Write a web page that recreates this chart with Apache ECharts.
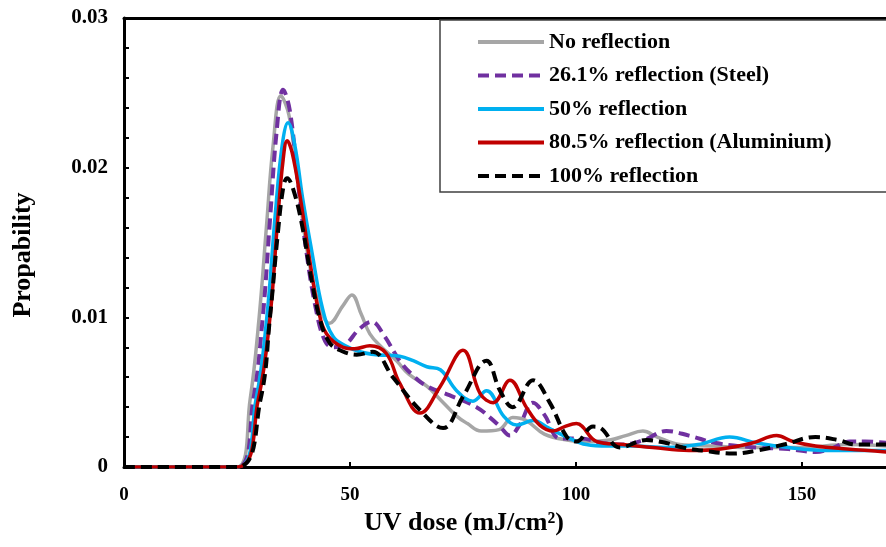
<!DOCTYPE html>
<html>
<head>
<meta charset="utf-8">
<script src="https://cdn.jsdelivr.net/npm/echarts@6/dist/echarts.min.js"></script>
<style>
  html, body { margin: 0; padding: 0; background: #fff; }
  #chart { width: 886px; height: 547px; }
</style>
</head>
<body>
<div id="chart"></div>
<script>
// [UV dose, probability]
const noReflection = [
  [0, 0], [25, 0], [27.9, 0.0045], [29.9, 0.010], [31.5, 0.016], [33, 0.0215], [34.7, 0.0248],
  [36.5, 0.0235], [38.5, 0.019], [40.5, 0.0145], [43, 0.0110], [45.5, 0.0096], [48.5, 0.0108],
  [50.4, 0.0115], [52.5, 0.0102], [54.4, 0.0089], [57, 0.0080], [60.3, 0.0071], [63, 0.0062],
  [67, 0.0054], [70, 0.0045], [73.6, 0.0034], [76, 0.0029], [79, 0.0024], [83, 0.0025],
  [86, 0.0033], [89, 0.0031], [93, 0.0022], [98, 0.0018], [103, 0.0017], [107.5, 0.0018],
  [111, 0.0021], [114.8, 0.0024], [118, 0.0020], [123, 0.0015], [130, 0.0014], [140, 0.0013],
  [150, 0.0013], [160, 0.0015], [169, 0.0014]
];
const steel = [
  [0, 0], [25, 0], [28.6, 0.0045], [30.7, 0.010], [32.3, 0.0165], [33.8, 0.0225], [35.2, 0.0252],
  [36.7, 0.0238], [38.5, 0.019], [40.3, 0.0145], [42.5, 0.0105], [44.5, 0.0084], [46.3, 0.0080],
  [49, 0.0082], [52, 0.0092], [54.8, 0.0097], [57.5, 0.0088], [61, 0.0071], [64, 0.0061],
  [67, 0.0054], [72, 0.0048], [78, 0.0040], [81, 0.0033], [83.2, 0.0027], [85.4, 0.0021],
  [87.5, 0.0028], [90.5, 0.0043], [93, 0.0035], [96.5, 0.0019], [101, 0.0019], [106, 0.0016],
  [110, 0.0015], [115, 0.0018], [120, 0.0024], [125, 0.0021], [131, 0.0016], [140, 0.0013],
  [147, 0.0012], [153, 0.0010], [157, 0.0013], [160.6, 0.0017], [164, 0.0017], [169, 0.0016]
];
const half = [
  [0, 0], [25, 0], [29.2, 0.0045], [31.6, 0.010], [33.5, 0.017], [35, 0.0215], [36.3, 0.0230],
  [37.8, 0.0215], [39.5, 0.018], [41.5, 0.0145], [44, 0.0105], [46.3, 0.0087], [49, 0.0081],
  [52.2, 0.0077], [55.9, 0.0075], [61, 0.0074], [64, 0.0071], [67, 0.0067], [70, 0.0065],
  [73.6, 0.0051], [77.2, 0.0044], [80.2, 0.0051], [84, 0.0034], [86.9, 0.0028], [90.5, 0.0031],
  [94, 0.0026], [98, 0.0020], [102.3, 0.0015], [107, 0.0014], [112.7, 0.0014], [120, 0.0013],
  [127, 0.0015], [134, 0.0020], [140, 0.0016], [147, 0.0013], [156, 0.0011], [162, 0.0011],
  [169, 0.0011]
];
const aluminium = [
  [0, 0], [25, 0], [29.7, 0.0045], [32.3, 0.010], [34, 0.0165], [35.2, 0.0205], [36.1, 0.0218],
  [37.2, 0.0210], [39, 0.0180], [41, 0.0140], [43, 0.0105], [44.8, 0.0089], [48.5, 0.0080],
  [51, 0.0079], [54.4, 0.0081], [58, 0.0076], [61, 0.0056], [65.5, 0.0036], [70, 0.0054],
  [75, 0.0078], [78.8, 0.0049], [81.7, 0.0043], [85.4, 0.0058], [89, 0.0040], [92, 0.0028],
  [95, 0.0024], [97.5, 0.0027], [100.1, 0.0029], [104.6, 0.0017], [110.4, 0.0015], [117, 0.0013],
  [125, 0.0011], [132, 0.0012], [139, 0.0016], [144.4, 0.0021], [148, 0.0017], [153, 0.0014],
  [160, 0.0012], [169, 0.0010]
];
const full = [
  [0, 0], [25, 0], [30.2, 0.0045], [32.3, 0.010], [34, 0.0155], [35.3, 0.0188], [36.1, 0.0193],
  [37.5, 0.0185], [39.5, 0.016], [41.5, 0.0125], [43.5, 0.0097], [45.5, 0.0083], [47.8, 0.0078],
  [51.5, 0.0075], [55, 0.0077], [59.5, 0.0060], [65.5, 0.0038], [70.6, 0.0026], [75, 0.0047],
  [80.2, 0.0071], [83.2, 0.0051], [86, 0.0040], [90.5, 0.0058], [94.2, 0.0043], [98, 0.0020],
  [100.1, 0.0017], [103.8, 0.0027], [105.5, 0.0026], [109.7, 0.0013], [115.6, 0.0018],
  [120, 0.0016], [123.7, 0.0013], [128, 0.0011], [134.7, 0.0009], [140, 0.0011], [146, 0.0015],
  [153, 0.0020], [158, 0.0018], [162, 0.0015], [169, 0.0015]
];

const seriesNames = ['No reflection', '26.1% reflection (Steel)', '50% reflection',
  '80.5% reflection (Aluminium)', '100% reflection'];
const seriesData = [noReflection, steel, half, aluminium, full];
const seriesColors = ['#a6a6a6', '#7030a0', '#00b0f0', '#c00000', '#000000'];
const seriesDashed = [false, true, false, false, true];

const FONT = 'Liberation Serif';
const chart = echarts.init(document.getElementById('chart'));

const axisText = { color: '#000', fontFamily: FONT, fontWeight: 'bold' };

chart.setOption({
  animation: false,
  backgroundColor: '#fff',
  grid: { left: 124, top: 18, right: 0, bottom: 80 },
  xAxis: [{
    type: 'value', min: 0, max: 168.6, interval: 50,
    axisLine: { lineStyle: { color: '#000', width: 3 } },
    axisTick: { inside: true, length: 5, lineStyle: { color: '#000', width: 2 } },
    axisLabel: { ...axisText, fontSize: 19, margin: 19, showMaxLabel: false,
      formatter: v => (v % 50 === 0 ? String(v) : '') },
    splitLine: { show: false },
  }, {
    type: 'value', position: 'top', min: 0, max: 168.6,
    axisLine: { show: true, lineStyle: { color: '#000', width: 3 } },
    axisTick: { show: false }, axisLabel: { show: false }, splitLine: { show: false },
  }],
  yAxis: {
    type: 'value', min: 0, max: 0.03, interval: 0.01,
    axisLine: { show: true, lineStyle: { color: '#000', width: 3 } },
    axisTick: { show: true, inside: true, length: 5, lineStyle: { color: '#000', width: 2 } },
    minorTick: { show: true, splitNumber: 5, length: 5, lineStyle: { color: '#000', width: 2 } },
    axisLabel: { ...axisText, fontSize: 21, margin: 16, formatter: v => (v === 0 ? '0' : v.toFixed(2)) },
    splitLine: { show: false },
  },
  legend: {
    orient: 'vertical', left: 440, top: 20,
    padding: [11, 80, 5, 36],
    itemWidth: 66, itemHeight: 22, itemGap: 11.5,
    backgroundColor: '#fff', borderColor: '#404040', borderWidth: 1.5, borderRadius: 0,
    lineStyle: { width: 4 },
    // hide the circle the line series puts in the middle of its legend icon
    itemStyle: { color: 'rgba(0,0,0,0)', borderWidth: 0 },
    textStyle: { color: '#000', fontFamily: FONT, fontWeight: 'bold', fontSize: 22, lineHeight: 22 },
    data: seriesNames,
  },
  graphic: [{
    type: 'text', x: 464, y: 523,
    style: { text: 'UV dose (mJ/cm²)', fill: '#000', font: `bold 26px "${FONT}"`,
      align: 'center', verticalAlign: 'middle' },
  }, {
    type: 'text', x: 23, y: 255, rotation: Math.PI / 2,
    style: { text: 'Propability', fill: '#000', font: `bold 26px "${FONT}"`,
      align: 'center', verticalAlign: 'middle' },
  }],
  series: seriesData.map((d, i) => ({
    name: seriesNames[i],
    type: 'line',
    data: d,
    smooth: 0.4,
    symbol: 'none',
    lineStyle: {
      color: seriesColors[i],
      width: seriesDashed[i] ? 4 : 3.5,
      type: seriesDashed[i] ? [11, 6] : 'solid',
    },
    itemStyle: { color: seriesColors[i] },
  })),
});
</script>
</body>
</html>
